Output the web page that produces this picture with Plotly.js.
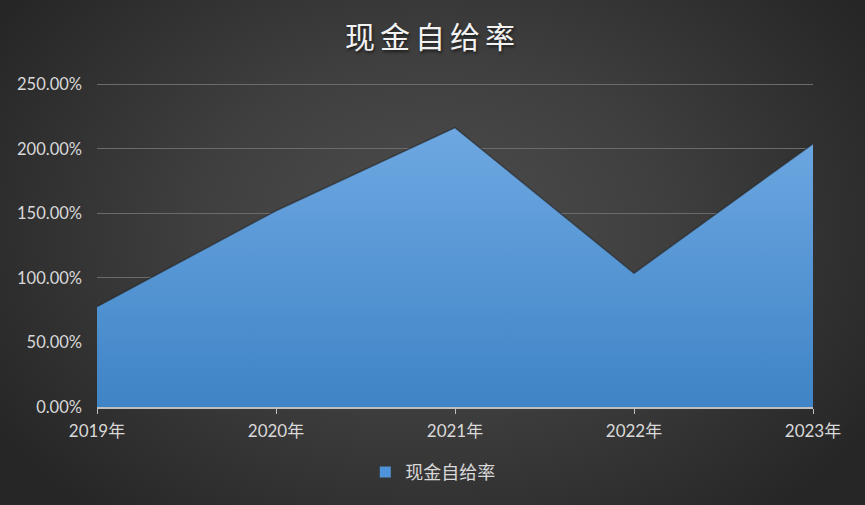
<!DOCTYPE html>
<html>
<head>
<meta charset="utf-8">
<script src="https://cdn.plot.ly/plotly-3.0.1.min.js"></script>
<style>
html,body{margin:0;padding:0;}
body{width:865px;height:505px;background:radial-gradient(ellipse 60% 75% at 50% 45%, #4d4d4d 0%, #3f3f3f 45%, #262626 100%);overflow:hidden;}
#chart{width:865px;height:505px;}
.gtitle{letter-spacing:5px;text-shadow:1px 2px 3px rgba(0,0,0,0.6);}
</style>
</head>
<body>
<div id="chart"></div>
<script>
const categories = ['2019年','2020年','2021年','2022年','2023年'];
const seriesName = '现金自给率';
const values = [0.777, 1.52, 2.163, 1.036, 2.039];
const yTicks = [0, 0.5, 1, 1.5, 2, 2.5];
const yTickLabels = ['0.00%','50.00%','100.00%','150.00%','200.00%','250.00%'];

const fontFam = 'Lato, "Noto Sans CJK SC", sans-serif';

const trace = {
  x: categories,
  y: values,
  type: 'scatter',
  mode: 'lines',
  name: seriesName,
  fill: 'tozeroy',
  line: {color: 'rgba(35,35,35,0.55)', width: 1.5},
  fillgradient: {type: 'vertical', colorscale: [[0, '#3f84c6'], [1, '#6ea8e2']]},
  fillcolor: '#5597d8',
  hoverinfo: 'skip',
  showlegend: false
};

const legendTrace = {
  x: [null], y: [null],
  type: 'scatter', mode: 'markers',
  name: seriesName,
  marker: {symbol: 'square', size: 11, color: '#4f93d8'},
  showlegend: true
};

const layout = {
  width: 865, height: 505,
  paper_bgcolor: 'rgba(0,0,0,0)',
  plot_bgcolor: 'rgba(0,0,0,0)',
  margin: {l: 97, r: 52, t: 79, b: 98},
  title: {
    text: '现金自给率',
    x: 0.5, xanchor: 'center', y: 0.925, yanchor: 'middle',
    font: {family: '"Noto Sans CJK SC", sans-serif', size: 30, color: '#f2f2f2'}
  },
  font: {family: fontFam, color: '#d9d9d9', size: 16},
  xaxis: {
    type: 'category',
    range: [0, 4],
    showgrid: false,
    zeroline: false,
    showline: true, linecolor: '#bfbfbf', linewidth: 1.5,
    ticks: 'outside', ticklen: 5, tickcolor: '#bfbfbf', tickwidth: 1,
    ticklabelstandoff: 3,
    tickfont: {family: fontFam, size: 17, color: '#d9d9d9'},
    fixedrange: true
  },
  yaxis: {
    range: [0, 2.54],
    tickvals: yTicks,
    ticktext: yTickLabels,
    showgrid: true, gridcolor: '#6b6b6b', gridwidth: 1,
    zeroline: false, showline: false,
    ticks: '', ticklabelstandoff: 14,
    tickfont: {family: fontFam, size: 16.5, color: '#d9d9d9'},
    fixedrange: true
  },
  showlegend: true,
  legend: {
    orientation: 'h', x: 0.469, xanchor: 'center',
    yref: 'container', y: 0.065, yanchor: 'middle',
    font: {family: '"Noto Sans CJK SC", sans-serif', size: 18, color: '#d9d9d9'},
    bgcolor: 'rgba(0,0,0,0)',
    itemwidth: 30
  }
};

Plotly.newPlot('chart', [trace, legendTrace], layout, {displayModeBar: false, staticPlot: true});
</script>
</body>
</html>
